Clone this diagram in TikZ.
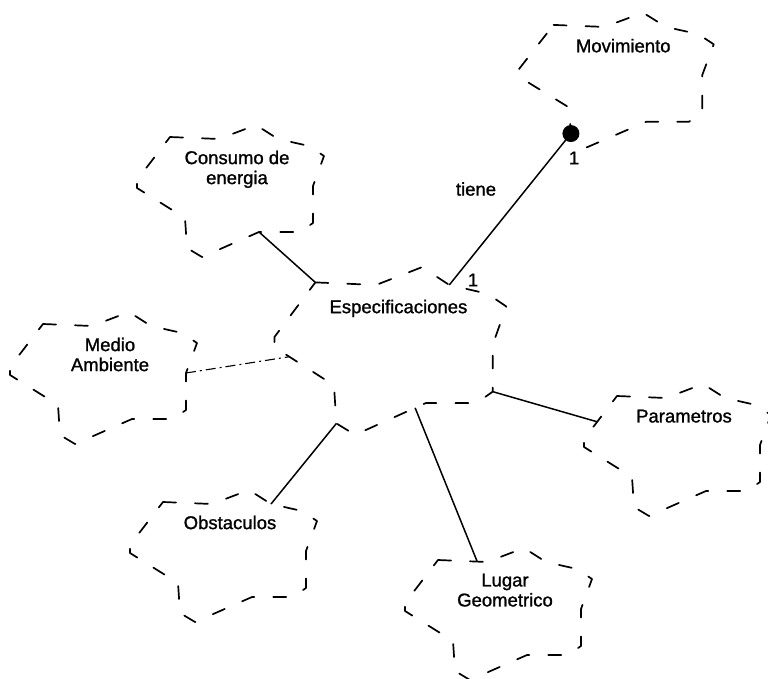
\documentclass[tikz,border=0pt]{standalone}
\usepackage{fontspec}
\setmainfont{Liberation Sans}
\newfontfamily\labelfont{Liberation Sans}[FakeBold=1.2]
\usetikzlibrary{calc}

\tikzset{
  cloudline/.style={line width=1.7pt, line join=round, line cap=round,
    dash pattern=on 13pt off 19pt},
  link/.style={line width=1.5pt},
  weaklink/.style={line width=1.1pt, dash pattern=on 10pt off 4pt on 2pt off 4pt},
  cloudtext/.style={inner sep=0pt, align=center, font=\labelfont\fontsize{18.5}{20}\selectfont},
  tag/.style={inner sep=0pt, font=\labelfont\fontsize{18.5}{20}\selectfont},
  % Booch-style class cloud: a dashed lobed outline with the class name near its top
  cloud/.pic={
    \coordinate (-v1)  at (-61,-54);
    \coordinate (-v2)  at (-12,-52);
    \coordinate (-v3)  at (25,-66);
    \coordinate (-v4)  at (47,-52);
    \coordinate (-v5)  at (78,-45);
    \coordinate (-v6)  at (93,-35);
    \coordinate (-v7)  at (82,-5);
    \coordinate (-v8)  at (82,32);
    \coordinate (-v9)  at (69,41);
    \coordinate (-v10) at (28,41);
    \coordinate (-v11) at (-29,66);
    \coordinate (-v12) at (-44,57);
    \coordinate (-v13) at (-46,27);
    \coordinate (-v14) at (-94,-3);
    \coordinate (-v15) at (-94,-11);
    \draw[cloudline] (-v1) -- (-v2) -- (-v3) -- (-v4) -- (-v5) -- (-v6) -- (-v7)
      -- (-v8) -- (-v9) -- (-v10) -- (-v11) -- (-v12) -- (-v13) -- (-v14)
      -- (-v15) -- cycle;
    \node[cloudtext, anchor=north] (-t) at (6,-40.5) {#1};
  }
}

\begin{document}
\begin{tikzpicture}[x=1pt, y=-1pt]
  \useasboundingbox (0,0) rectangle (768,679);

  % classes
  \pic[xscale=1.04, yscale=1.02] (mov) at (617,80) {cloud={Movimiento}};
  \pic (cons) at (231,191) {cloud={Consumo de\\energia}};
  \pic[xscale=1.24, yscale=1.27] (spec) at (391,351) {cloud={Especificaciones}};
  \pic (medio) at (104,378) {cloud={Medio\\Ambiente}};
  \pic (param) at (678,450) {cloud={Parametros}};
  \pic (obst) at (224,556) {cloud={Obstaculos}};
  \pic (lugar) at (499,614) {cloud={Lugar\\Geometrico}};

  % attachment points on the cloud outlines
  \coordinate (movend) at ($(mov-v12)!0.15!(mov-v13)$);
  \coordinate (specleft) at ($(spec-v14)!0.25!(spec-v13)$);
  \coordinate (specbottom) at ($(spec-v10)!0.15!(spec-v11)$);
  \coordinate (paramend) at ($(param-v15)!0.4!(param-v1)$);
  \coordinate (lugarend) at ($(lugar-v1)!0.8!(lugar-v2)$);

  % associations
  \draw[link] (spec-v4) -- (movend);
  \fill (movend) circle (8.5);
  \draw[link] (cons-v10) -- (spec-v1);
  \draw[weaklink] (medio-v7) -- (specleft);
  \draw[link] (spec-v12) -- (obst-v4);
  \draw[link] (specbottom) -- (lugarend);
  \draw[link] (spec-v8) -- (paramend);

  % association labels
  \node[tag] (tiene) at (476,189) {tiene};
  \node[tag] (multmov) at (574,158) {1};
  \node[tag] (multspec) at (473,280) {1};
\end{tikzpicture}
\end{document}
